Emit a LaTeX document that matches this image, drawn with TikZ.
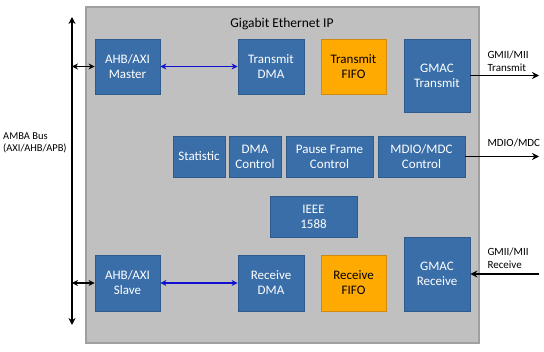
\documentclass[tikz,border=0pt]{standalone}
\usepackage{fontspec}
\setmainfont{Carlito}
\usepackage{tikz}
\usetikzlibrary{arrows.meta, shadows}
\definecolor{ipgray}{HTML}{C0C0C0}
\definecolor{ipedge}{HTML}{A0A0A0}
\definecolor{blkfill}{HTML}{3A6EA8}
\definecolor{blkedge}{HTML}{2E5A8C}
\definecolor{fifofill}{HTML}{FFAA00}
\definecolor{fifoedge}{HTML}{D08A10}
\definecolor{linkblue}{HTML}{1010D0}

\tikzset{
    block/.style={rectangle, draw=blkedge, fill=blkfill, line width=0.8pt, text=white,
        align=center, font=\fontsize{13}{15}\selectfont, inner sep=1pt,
        drop shadow={shadow xshift=1pt, shadow yshift=-1pt, opacity=0.35}},
    fifo/.style={block, draw=fifoedge, fill=fifofill, text=black},
    sidelabel/.style={anchor=west, align=left, font=\fontsize{11}{12.5}\selectfont},
    buslink/.style={{Stealth[length=6pt, width=6pt]}-{Stealth[length=6pt, width=6pt]}, line width=1.2pt, black},
    dmalink/.style={{Stealth[length=6pt, width=6pt]}-{Stealth[length=6pt, width=6pt]}, line width=1.8pt, linkblue},
    outlink/.style={-{Stealth[length=7pt, width=7pt]}, line width=1.5pt, black}
}

\begin{document}
\begin{tikzpicture}[x=1pt, y=-1pt]

    \useasboundingbox (0,0) rectangle (544,352);

    % === IP frame ===
    \draw[fill=ipgray, draw=ipedge, line width=1.5pt] (86,7) rectangle (479,343);
    \node[font=\fontsize{13.5}{15}\selectfont] (title) at (282,24) {Gigabit Ethernet IP};

    % === Transmit path ===
    \node[block, minimum width=65pt, minimum height=55pt] (master) at (127.5,66.5) {AHB/AXI\\Master};
    \node[block, minimum width=66pt, minimum height=55pt] (txdma) at (271,66.5) {Transmit\\DMA};
    \node[fifo, minimum width=65pt, minimum height=55pt] (txfifo) at (353.5,66.5) {Transmit\\FIFO};
    \node[block, minimum width=66pt, minimum height=73pt] (gmactx) at (437,75.5) {GMAC\\Transmit};

    % === Control blocks ===
    \node[block, minimum width=52pt, minimum height=41pt] (stat) at (199,156.5) {Statistic};
    \node[block, minimum width=52pt, minimum height=41pt] (dmactl) at (255,156.5) {DMA\\Control};
    \node[block, minimum width=87pt, minimum height=41pt] (pause) at (329.5,156.5) {Pause Frame\\Control};
    \node[block, minimum width=87pt, minimum height=41pt] (mdio) at (421.5,156.5) {MDIO/MDC\\Control};
    \node[block, minimum width=87pt, minimum height=41pt] (ieee) at (313.5,216.5) {IEEE\\1588};

    % === Receive path ===
    \node[block, minimum width=65pt, minimum height=56pt] (slave) at (127.5,283) {AHB/AXI\\Slave};
    \node[block, minimum width=66pt, minimum height=56pt] (rxdma) at (271,283) {Receive\\DMA};
    \node[fifo, minimum width=65pt, minimum height=56pt] (rxfifo) at (353.5,283) {Receive\\FIFO};
    \node[block, minimum width=66pt, minimum height=74pt] (gmacrx) at (437,274) {GMAC\\Receive};

    % === AMBA bus ===
    \coordinate (bustop) at (72,17);
    \coordinate (busbot) at (72,325);
    \draw[{Stealth[length=7pt, width=7pt]}-{Stealth[length=7pt, width=7pt]}, line width=1.6pt] (bustop) -- (busbot);
    \node[sidelabel, font=\fontsize{10.5}{12.5}\selectfont, inner sep=0pt] (amba) at (3,143) {AMBA Bus\\(AXI/AHB/APB)};

    \draw[buslink] (master.west -| bustop) -- (master.west);
    \draw[buslink] (slave.west -| bustop) -- (slave.west);

    % === Master/slave to DMA ===
    \draw[dmalink] (master.east) -- (txdma.west);
    \draw[dmalink] (slave.east) -- (rxdma.west);

    % === External interfaces ===
    \coordinate (edge) at (539,0);
    \draw[outlink] (gmactx.east) -- (gmactx.east -| edge);
    \draw[outlink] (mdio.east) -- (mdio.east -| edge);
    \draw[outlink] (gmacrx.east -| edge) -- (gmacrx.east);

    \node[sidelabel] (gmiitx) at (484,61) {GMII/MII\\Transmit};
    \node[sidelabel] (mdiolbl) at (484,143) {MDIO/MDC};
    \node[sidelabel] (gmiirx) at (484,258) {GMII/MII\\Receive};

\end{tikzpicture}
\end{document}
